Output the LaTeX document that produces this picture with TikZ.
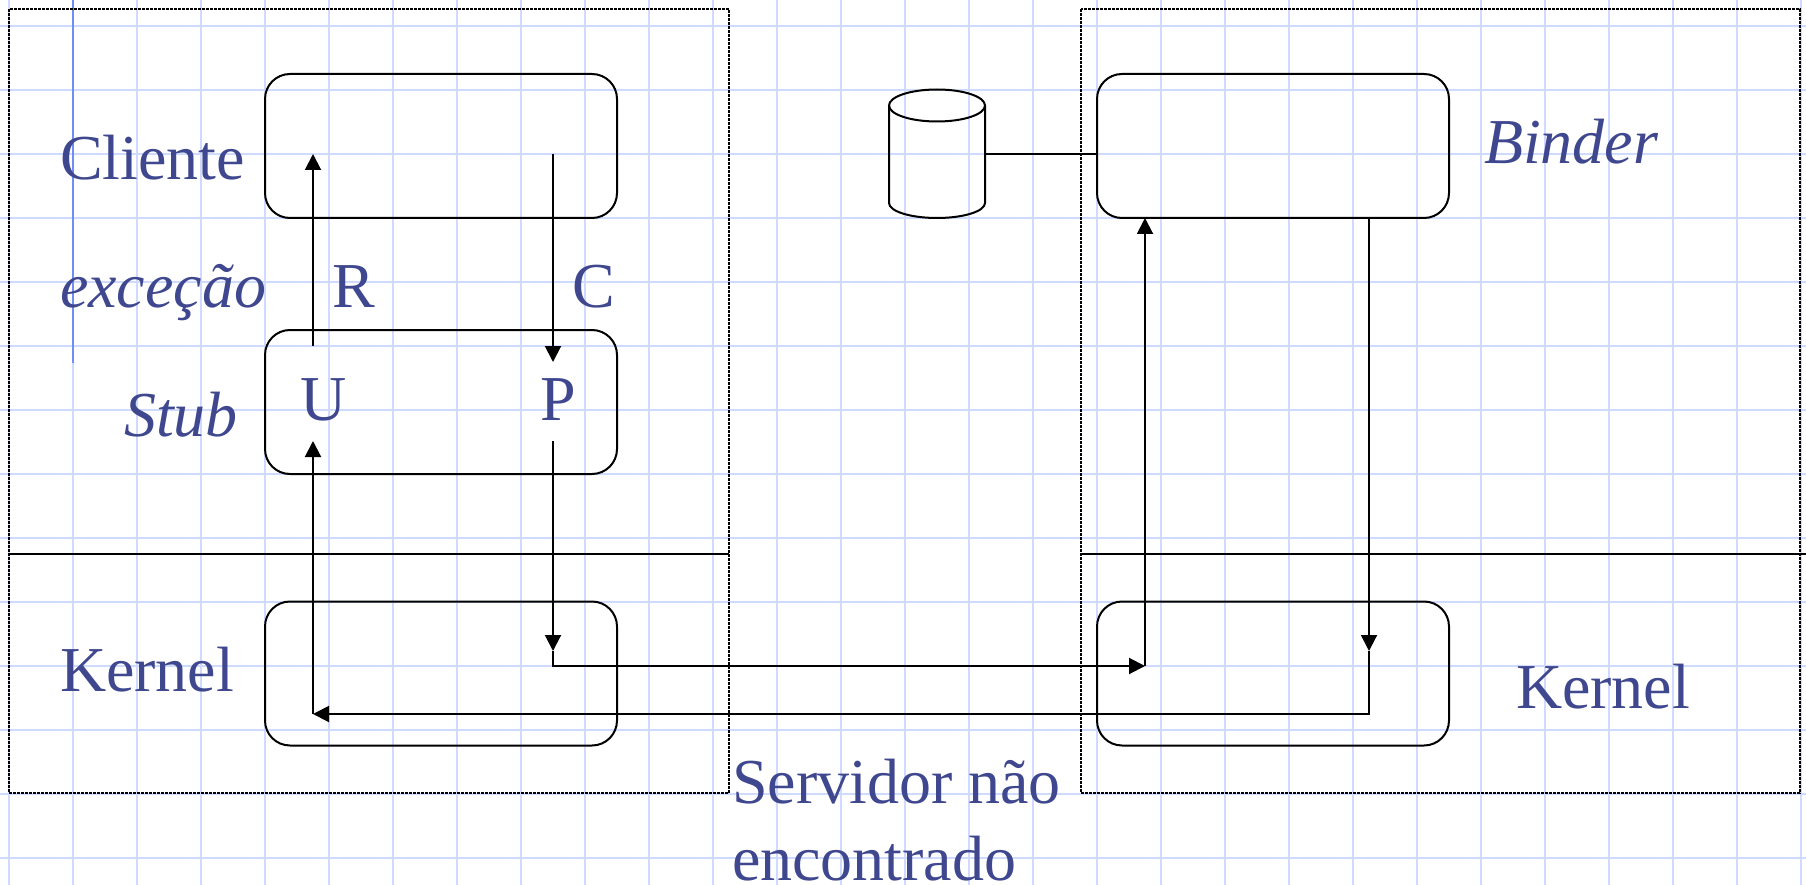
\documentclass[tikz,border=0pt]{standalone}
\usepackage{fontspec}
\setmainfont{Liberation Serif}
\usetikzlibrary{arrows.meta,shapes,positioning}
\definecolor{gridblue}{HTML}{CEDBFF}
\definecolor{marginblue}{HTML}{6F8FF5}
\definecolor{textblue}{HTML}{3F478F}

\begin{document}
\begin{tikzpicture}[
        x=1pt, y=-1pt,
        every path/.style={line width=2pt},
        layerbox/.style={draw, rounded corners=25pt, minimum width=352pt, minimum height=144pt, inner sep=0pt, outer sep=0pt},
        machine/.style={draw, line width=2.6pt, dash pattern=on 3pt off 1pt},
        label/.style={anchor=base west, inner sep=0pt, text=textblue, font=\fontsize{64pt}{77pt}\selectfont, align=left},
        flow/.style={-{Triangle[length=16pt,width=16pt]}}
    ]
    \useasboundingbox (0,0) rectangle (1806,885);

    % Paper
    \foreach \gx in {0,...,28}
      \draw[gridblue] ({9+64*\gx},0) -- ({9+64*\gx},885);
    \foreach \gy in {0,...,13}
      \draw[gridblue] (0,{25.7+64*\gy}) -- (1806,{25.7+64*\gy});
    \draw[marginblue] (73,0) -- (73,363);

    % Machines
    \draw[machine] (9,9) rectangle (729,793);
    \draw[machine] (1081,9) rectangle (1800,793);
    \draw (9,554) -- (729,554);
    \draw (1081,554) -- (1806,554);

    % Nodes
    \node[layerbox] (cliente) at (441,146) {};
    \node[layerbox] (stub) at (441,402) {};
    \node[layerbox] (kernelc) at (441,673.5) {};
    \node[layerbox] (binder) at (1273,146) {};
    \node[layerbox] (kernelb) at (1273,673.5) {};
    \node[inner sep=0pt, outer sep=0pt, minimum width=96pt, minimum height=129pt] (disco) at (937,153.5) {};
    \draw (937,105.5) ellipse (48 and 16);
    \draw (889,105.5) -- (889,203) arc[start angle=180, end angle=0, x radius=48, y radius=15] -- (985,105.5);

    % Labels
    \node[label] (lcliente) at (59,180) {Cliente};
    \node[label] (lexcecao) at (59,307) {\textit{exceção}};
    \node[label] (lr) at (331,307) {R};
    \node[label] (lc) at (571,307) {C};
    \node[label] (lu) at (299,420) {U};
    \node[label] (lp) at (539,420) {P};
    \node[label] (lstub) at (123,436) {\textit{Stub}};
    \node[label] (lkernelc) at (59,691) {Kernel};
    \node[label] (lbinder) at (1483,164) {\textit{Binder}};
    \node[label] (lkernelb) at (1515,708) {Kernel};
    \node[label] (lservidor) at (731,880) {Servidor não\\encontrado};

    % Connection points
    \coordinate (rin) at (313,154);
    \coordinate (rout) at (313,346);
    \coordinate (cout) at (553,154);
    \coordinate (cin) at (553,362);
    \coordinate (uin) at (313,441);
    \coordinate (uout) at (313,714);
    \coordinate (pout) at (553,441);
    \coordinate (pin) at (553,651);
    \coordinate (netc) at (553,666);
    \coordinate (netb) at (1145,666);
    \coordinate (bup) at (1145,218);
    \coordinate (bdown) at (1369,218);
    \coordinate (bin) at (1369,651);
    \coordinate (bnet) at (1369,714);
    \coordinate (dbin) at (1097,154);

    % Connectors
    \draw[flow] (rout) -- (rin);
    \draw[flow] (cout) -- (cin);
    \draw[flow] (uout) -- (uin);
    \draw[flow] (pout) -- (pin);
    \draw[flow] (pin) -- (netc) -- (netb);
    \draw[flow] (netb) -- (bup);
    \draw[flow] (bdown) -- (bin);
    \draw[flow] (bin) -- (bnet) -- (uout);
    \draw (disco.east |- dbin) -- (dbin);
\end{tikzpicture}
\end{document}
